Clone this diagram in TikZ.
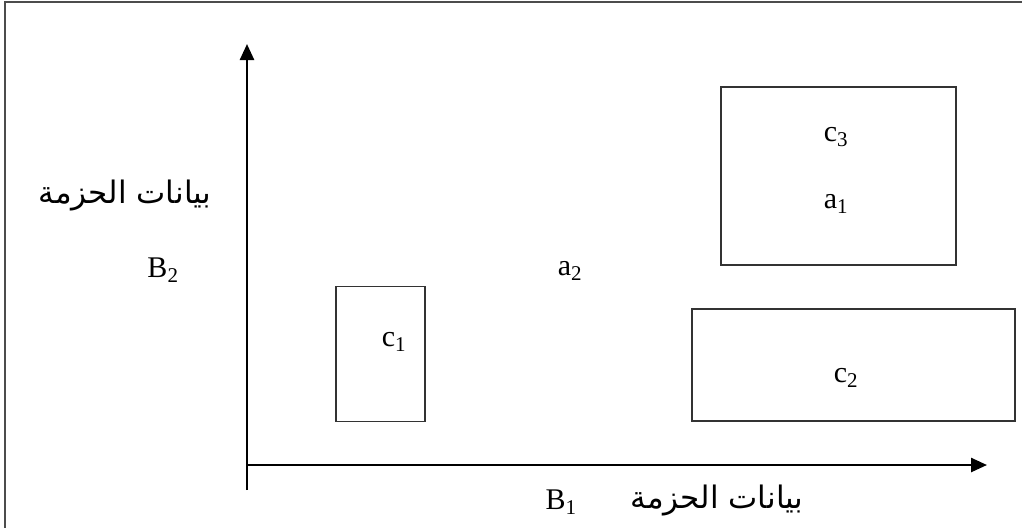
\documentclass[tikz,border=0pt]{standalone}
\usepackage{fontspec}
\setmainfont{Liberation Serif}
\newfontfamily\arabicfont[Script=Arabic]{DejaVu Sans}
\TeXXeTstate=1
\usetikzlibrary{arrows.meta}
\tikzstyle{lbl}=[inner sep=0pt,font=\fontsize{30}{32}\selectfont]
\tikzstyle{arlbl}=[inner sep=0pt,font=\arabicfont\fontsize{31}{34}\selectfont]
\tikzstyle{cluster}=[draw=black!80,line width=1.5pt]
\tikzstyle{axis}=[line width=2.5pt,-{Triangle[length=16pt,width=14pt]}]

\begin{document}
\begin{tikzpicture}[x=1pt,y=-1pt]
\useasboundingbox (0,0) rectangle (1022,528);
\draw[black!70,line width=1.5pt] (1022,2) -- (5,2) -- (5,528);

\coordinate (o) at (247,465);
\coordinate (ybot) at (247,490);
\coordinate (ytip) at (247,44);
\coordinate (xtip) at (987,465);
\draw[axis] (ybot) -- (ytip);
\draw[axis] (o) -- (xtip);

\node[cluster,minimum width=89pt,minimum height=135pt] at (380.5,354) (r1) {};
\node[cluster,minimum width=235pt,minimum height=178pt] at (838.5,176) (r3) {};
\node[cluster,minimum width=323pt,minimum height=112pt] at (853.5,365) (r2) {};

\node[lbl] at (394,342) (c1) {c\textsubscript{1}};
\node[lbl] at (836,137) (c3) {c\textsubscript{3}};
\node[lbl] at (836,204) (a1) {a\textsubscript{1}};
\node[lbl] at (846,378) (c2) {c\textsubscript{2}};
\node[lbl] at (570,271) (a2) {a\textsubscript{2}};
\node[lbl] at (163,270) (b2) {B\textsubscript{2}};
\node[lbl] at (561,502) (b1) {B\textsubscript{1}};

\node[arlbl] at (125,196) (n2) {\beginR بيانات الحزمة\endR};
\node[arlbl] at (717,500) (n1) {\beginR بيانات الحزمة\endR};
\end{tikzpicture}
\end{document}
